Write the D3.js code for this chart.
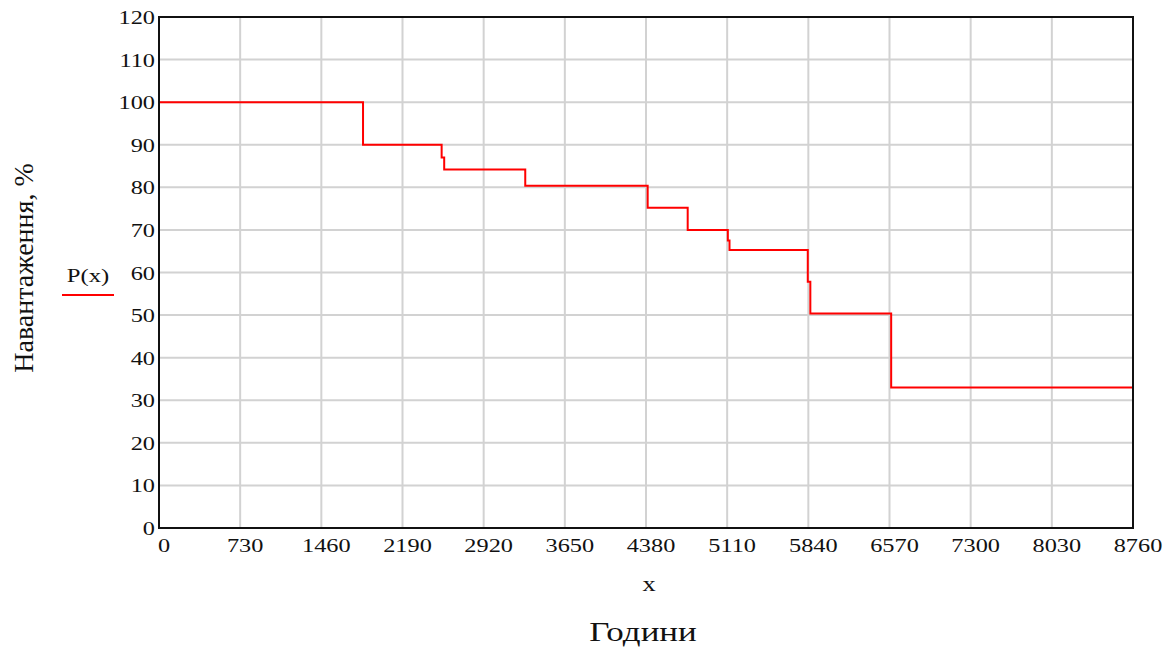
<!DOCTYPE html>
<html>
<head>
<meta charset="utf-8">
<script src="https://cdn.jsdelivr.net/npm/d3@7/dist/d3.min.js"></script>
<style>
  body { margin: 0; background: #fff; }
  text { font-family: "Liberation Serif", "Times New Roman", serif; fill: #111; }
</style>
</head>
<body>
<div id="chart"></div>
<script>
// step points of P(x): hour where a level starts, and the load level
var hours = [0, 1835, 2542, 2565, 3294, 4395, 4755, 5116, 5131, 5835, 5858, 6585, 8760];
var load = [100, 90, 87, 84.2, 80.4, 75.2, 70, 67.5, 65.3, 57.8, 50.4, 33, 33];

var xTicks = [0, 730, 1460, 2190, 2920, 3650, 4380, 5110, 5840, 6570, 7300, 8030, 8760];
var yTicks = [0, 10, 20, 30, 40, 50, 60, 70, 80, 90, 100, 110, 120];

var width = 1171,
  height = 647,
  leftPad = 159,
  topPad = 17,
  innerW = 974,
  innerH = 511;

var svg = d3.select("#chart").append("svg")
  .attr("width", width)
  .attr("height", height);

var x = d3.scaleLinear().domain([0, 8760]).range([leftPad, leftPad + innerW]);
var y = d3.scaleLinear().domain([0, 120]).range([topPad + innerH, topPad]);

// grid
svg.append("g").selectAll("line").data(xTicks.slice(1, -1)).enter().append("line")
  .attr("x1", function (d) { return x(d); })
  .attr("x2", function (d) { return x(d); })
  .attr("y1", y(0)).attr("y2", y(120))
  .attr("stroke", "#d2d2d2").attr("stroke-width", 2);

svg.append("g").selectAll("line").data(yTicks.slice(1, -1)).enter().append("line")
  .attr("y1", function (d) { return y(d); })
  .attr("y2", function (d) { return y(d); })
  .attr("x1", x(0)).attr("x2", x(8760))
  .attr("stroke", "#d2d2d2").attr("stroke-width", 2);

// tick labels (text is drawn a bit wider, as in the source)
svg.append("g").selectAll("text").data(yTicks).enter().append("text")
  .attr("transform", function (d) { return "translate(" + (leftPad - 4) + "," + (y(d) + 7) + ") scale(1.28,1)"; })
  .attr("text-anchor", "end")
  .style("font-size", "19px")
  .text(function (d) { return d; });

svg.append("g").selectAll("text").data(xTicks).enter().append("text")
  .attr("transform", function (d) { return "translate(" + (x(d) + 5) + ",552) scale(1.28,1)"; })
  .attr("text-anchor", "middle")
  .style("font-size", "19px")
  .text(function (d) { return d; });

// the step line
var pts = hours.map(function (h, i) { return [h, load[i]]; });
var line = d3.line()
  .x(function (d) { return x(d[0]); })
  .y(function (d) { return y(d[1]); })
  .curve(d3.curveStepAfter);

svg.append("path")
  .datum(pts)
  .attr("d", line)
  .attr("fill", "none")
  .attr("stroke", "#ff0000")
  .attr("stroke-width", 2);

// frame
svg.append("rect")
  .attr("x", leftPad).attr("y", topPad)
  .attr("width", innerW).attr("height", innerH)
  .attr("fill", "none")
  .attr("stroke", "#111")
  .attr("stroke-width", 2);

// legend
svg.append("text")
  .attr("transform", "translate(88,282) scale(1.3,1)")
  .attr("text-anchor", "middle")
  .style("font-size", "19px")
  .text("P(x)");
svg.append("line")
  .attr("x1", 62).attr("x2", 114)
  .attr("y1", 295).attr("y2", 295)
  .attr("stroke", "#ff0000").attr("stroke-width", 2);

// axis titles
svg.append("text")
  .attr("transform", "translate(649,591) scale(1.25,1)")
  .attr("text-anchor", "middle")
  .style("font-size", "21px")
  .text("x");

svg.append("text")
  .attr("transform", "translate(643,641) scale(1.25,1)")
  .attr("text-anchor", "middle")
  .style("font-size", "28px")
  .text("Години");

svg.append("text")
  .attr("transform", "translate(33,268) rotate(-90)")
  .attr("text-anchor", "middle")
  .style("font-size", "28px")
  .text("Навантаження, %");
</script>
</body>
</html>
